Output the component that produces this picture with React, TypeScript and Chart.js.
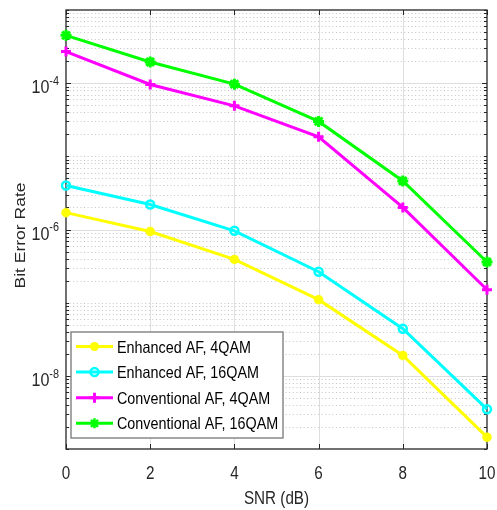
import React, { useEffect, useRef } from 'react';
import { Chart, registerables } from 'chart.js';

Chart.register(...registerables);

const snr = [0, 2, 4, 6, 8, 10];
const enhanced4QAM = [1.7e-6, 9.4e-7, 3.9e-7, 1.1e-7, 1.9e-8, 1.45e-9];
const enhanced16QAM = [4.0e-6, 2.2e-6, 9.6e-7, 2.65e-7, 4.4e-8, 3.5e-9];
const conventional4QAM = [2.7e-4, 9.6e-5, 4.9e-5, 1.85e-5, 2.0e-6, 1.5e-7];
const conventional16QAM = [4.5e-4, 1.95e-4, 9.7e-5, 3.0e-5, 4.6e-6, 3.6e-7];

const seriesLabels = ['Enhanced AF, 4QAM', 'Enhanced AF, 16QAM', 'Conventional AF, 4QAM', 'Conventional AF, 16QAM'];
const seriesColors = ['#FFFF00', '#00FFFF', '#FF00FF', '#00FF00'];
const seriesMarkers = ['dot', 'ring', 'plus', 'star'];
const xTicks = [0, 2, 4, 6, 8, 10];
const yMajorExponents = [-4, -6, -8];
const xTitle = 'SNR (dB)';
const yTitle = 'Bit Error Rate';

const W = 497;
const H = 510;
const SX = 0.87;
const FONT = '"Liberation Sans", Arial, sans-serif';

function drawText(ctx: CanvasRenderingContext2D, s: string, x: number, y: number, size: number, align: CanvasTextAlign, color = '#262626', baseline: CanvasTextBaseline = 'alphabetic') {
  ctx.save();
  ctx.translate(x, y);
  ctx.scale(SX, 1);
  ctx.font = `${size}px ${FONT}`;
  ctx.fillStyle = color;
  ctx.textAlign = align;
  ctx.textBaseline = baseline;
  ctx.fillText(s, 0, 0);
  ctx.restore();
}

function textW(ctx: CanvasRenderingContext2D, s: string, size: number) {
  ctx.save();
  ctx.font = `${size}px ${FONT}`;
  const w = ctx.measureText(s).width * SX;
  ctx.restore();
  return w;
}

function drawMarker(ctx: CanvasRenderingContext2D, kind: string, x: number, y: number, color: string) {
  ctx.save();
  ctx.strokeStyle = color;
  ctx.fillStyle = color;
  ctx.setLineDash([]);
  if (kind === 'dot') {
    ctx.beginPath();
    ctx.arc(x, y, 4.5, 0, Math.PI * 2);
    ctx.fill();
  } else if (kind === 'ring') {
    ctx.lineWidth = 2.5;
    ctx.beginPath();
    ctx.arc(x, y, 4, 0, Math.PI * 2);
    ctx.stroke();
  } else if (kind === 'plus') {
    ctx.lineWidth = 3;
    ctx.beginPath();
    ctx.moveTo(x - 5, y); ctx.lineTo(x + 5, y);
    ctx.moveTo(x, y - 5); ctx.lineTo(x, y + 5);
    ctx.stroke();
  } else {
    ctx.lineWidth = 2.5;
    const r = 5;
    const d = r * 0.707;
    ctx.beginPath();
    ctx.moveTo(x, y - r); ctx.lineTo(x, y + r);
    ctx.moveTo(x - d, y - d); ctx.lineTo(x + d, y + d);
    ctx.moveTo(x - d, y + d); ctx.lineTo(x + d, y - d);
    ctx.stroke();
  }
  ctx.restore();
}

const decorPlugin = {
  id: 'decor',
  beforeDraw(chart: any) {
    const ctx = chart.ctx as CanvasRenderingContext2D;
    ctx.save();
    ctx.fillStyle = '#ffffff';
    ctx.fillRect(0, 0, chart.width, chart.height);
    ctx.restore();
  },
  beforeDatasetsDraw(chart: any) {
    const ctx = chart.ctx as CanvasRenderingContext2D;
    const { left, right, top, bottom } = chart.chartArea;
    const xs = chart.scales.x;
    const ys = chart.scales.y;
    ctx.save();
    // minor dotted horizontal grid
    ctx.lineWidth = 1;
    ctx.strokeStyle = '#c4c4c4';
    ctx.setLineDash([1, 2.6]);
    for (let e = -9; e <= -4; e++) {
      for (let k = 1; k <= 9; k++) {
        const v = k * Math.pow(10, e);
        if (v <= 1.0001e-9 || v >= 0.9999e-3) continue;
        if (k === 1 && yMajorExponents.includes(e)) continue;
        const y = Math.round(ys.getPixelForValue(v)) + 0.5;
        ctx.beginPath();
        ctx.moveTo(left, y);
        ctx.lineTo(right, y);
        ctx.stroke();
      }
    }
    // major grid
    ctx.setLineDash([]);
    ctx.strokeStyle = '#dedede';
    for (const t of xTicks) {
      if (t === xTicks[0] || t === xTicks[xTicks.length - 1]) continue;
      const x = Math.round(xs.getPixelForValue(t)) + 0.5;
      ctx.beginPath();
      ctx.moveTo(x, top);
      ctx.lineTo(x, bottom);
      ctx.stroke();
    }
    for (const e of yMajorExponents) {
      const y = Math.round(ys.getPixelForValue(Math.pow(10, e))) + 0.5;
      ctx.beginPath();
      ctx.moveTo(left, y);
      ctx.lineTo(right, y);
      ctx.stroke();
    }
    // axes box
    ctx.strokeStyle = '#262626';
    ctx.lineWidth = 1.3;
    ctx.strokeRect(left, top, right - left, bottom - top);
    // x ticks
    ctx.lineWidth = 1;
    for (const t of xTicks) {
      const x = Math.round(xs.getPixelForValue(t)) + 0.5;
      ctx.beginPath();
      ctx.moveTo(x, bottom); ctx.lineTo(x, bottom - 5);
      ctx.moveTo(x, top); ctx.lineTo(x, top + 5);
      ctx.stroke();
    }
    // y ticks
    for (let e = -9; e <= -3; e++) {
      for (let k = 1; k <= 9; k++) {
        const v = k * Math.pow(10, e);
        if (v < 0.999e-9 || v > 1.001e-3) continue;
        const major = k === 1 && yMajorExponents.includes(e);
        const len = major ? 5 : 3;
        const y = Math.round(ys.getPixelForValue(v)) + 0.5;
        ctx.beginPath();
        ctx.moveTo(left, y); ctx.lineTo(left + len, y);
        ctx.moveTo(right, y); ctx.lineTo(right - len, y);
        ctx.stroke();
      }
    }
    ctx.restore();

    // x tick labels
    for (const t of xTicks) {
      const x = xs.getPixelForValue(t);
      drawText(ctx, String(t), x, bottom + 30, 17.5, 'center');
    }
    // y tick labels
    for (const e of yMajorExponents) {
      const y = ys.getPixelForValue(Math.pow(10, e));
      const sup = String(e);
      const supRight = left - 7;
      const sw = textW(ctx, sup, 12.5);
      drawText(ctx, sup, supRight, y + 1.8, 12.5, 'right');
      drawText(ctx, '10', supRight - sw, y + 10, 18.5, 'right');
    }
    // titles
    drawText(ctx, xTitle, (left + right) / 2, 504, 17.5, 'center');
    ctx.save();
    ctx.translate(25, (top + bottom) / 2 + 6);
    ctx.rotate(-Math.PI / 2);
    ctx.scale(1, SX);
    ctx.font = `17.5px ${FONT}`;
    ctx.fillStyle = '#262626';
    ctx.textAlign = 'center';
    ctx.textBaseline = 'alphabetic';
    ctx.fillText(yTitle, 0, 0);
    ctx.restore();
  },
  afterDatasetsDraw(chart: any) {
    const ctx = chart.ctx as CanvasRenderingContext2D;
    // legend
    const bx = 71, by = 332, bw = 212, bh = 106;
    ctx.save();
    ctx.fillStyle = '#ffffff';
    ctx.fillRect(bx, by, bw, bh);
    ctx.strokeStyle = '#888888';
    ctx.lineWidth = 1.5;
    ctx.strokeRect(bx, by, bw, bh);
    for (let i = 0; i < seriesLabels.length; i++) {
      const cy = 346.5 + i * 25.6;
      ctx.strokeStyle = seriesColors[i];
      ctx.lineWidth = 3;
      ctx.beginPath();
      ctx.moveTo(76, cy);
      ctx.lineTo(113, cy);
      ctx.stroke();
      drawMarker(ctx, seriesMarkers[i], 94.5, cy, seriesColors[i]);
      drawText(ctx, seriesLabels[i], 117, cy + 6, 16.5, 'left', '#000000');
    }
    ctx.restore();
  },
};

export default function App() {
  const ref = useRef<HTMLCanvasElement | null>(null);
  useEffect(() => {
    document.body.style.margin = '0';
    const canvas = ref.current;
    if (!canvas) return;
    const seriesData = [enhanced4QAM, enhanced16QAM, conventional4QAM, conventional16QAM];
    const styles: any[] = [
      { pointStyle: 'circle', pointRadius: 4.5, pointBackgroundColor: seriesColors[0], pointBorderWidth: 0.5 },
      { pointStyle: 'circle', pointRadius: 4, pointBackgroundColor: 'rgba(0,0,0,0)', pointBorderWidth: 2.5 },
      { pointStyle: 'cross', pointRadius: 5, pointBorderWidth: 3 },
      { pointStyle: 'star', pointRadius: 5.5, pointBorderWidth: 3 },
    ];
    const chart = new Chart(canvas, {
      type: 'line',
      data: {
        datasets: seriesData.map((vals, i) => ({
          label: seriesLabels[i],
          data: snr.map((x, j) => ({ x, y: vals[j] })),
          borderColor: seriesColors[i],
          backgroundColor: seriesColors[i],
          pointBorderColor: seriesColors[i],
          borderWidth: 3,
          tension: 0,
          fill: false,
          clip: false as any,
          order: -i,
          ...styles[i],
        })),
      },
      options: {
        responsive: false,
        animation: false,
        events: [],
        layout: { padding: { left: 66, right: 10, top: 10, bottom: 61 } },
        scales: {
          x: { type: 'linear', min: 0, max: 10, display: false },
          y: { type: 'logarithmic', min: 1e-9, max: 1e-3, display: false },
        },
        plugins: { legend: { display: false }, tooltip: { enabled: false } },
      },
      plugins: [decorPlugin],
    });
    return () => chart.destroy();
  }, []);
  return <canvas ref={ref} width={W} height={H} style={{ display: 'block', width: W, height: H }} />;
}
